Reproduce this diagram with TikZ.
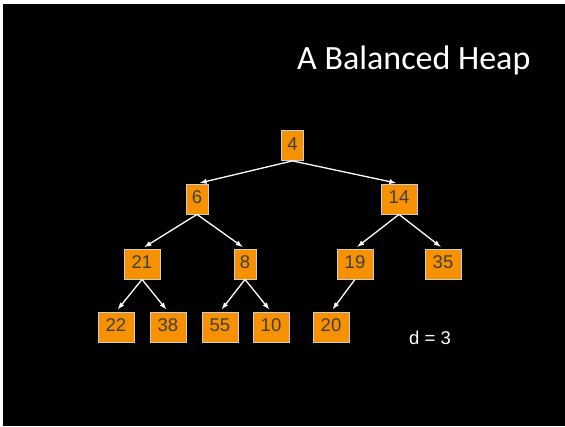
\documentclass[tikz,border=0pt]{standalone}
\usepackage{fontspec}
\setmainfont{Liberation Sans}
\newfontfamily\titlefont{Carlito}
\definecolor{heaporange}{RGB}{247,145,0}
\definecolor{keygrey}{RGB}{64,64,64}
\begin{document}
\begin{tikzpicture}[x=1pt,y=-1pt,
		key/.style={rectangle,draw=white!80!black,line width=0.8pt,fill=heaporange,text=keygrey,
			font=\fontsize{18.5}{20}\selectfont,minimum width=36,minimum height=30,
			inner sep=0pt,text height=13,text depth=4},
		narrow/.style={minimum width=22},
		edge/.style={-latex,draw=white,line width=1.3pt,shorten >=3pt}]
	\useasboundingbox (0,0) rectangle (565,426);
	\fill[white] (0,0) rectangle (565,426);
	\fill[black] (3,4) rectangle (565,426);
	\node[anchor=base west,text=white,font=\titlefont\fontsize{34}{38}\selectfont,inner sep=0pt] (title) at (297,69) {A Balanced Heap};
	\node[key,narrow] (root) at (292.5,145.5) {4};
	\node[key,narrow] (six) at (197,199) {6};
	\node[key] (fourteen) at (399,199) {14};
	\node[key] (twentyone) at (142,264) {21};
	\node[key,narrow] (eight) at (245,264) {8};
	\node[key] (nineteen) at (355,264) {19};
	\node[key] (thirtyfive) at (443,264) {35};
	\node[key] (twentytwo) at (116,327) {22};
	\node[key] (thirtyeight) at (168,327) {38};
	\node[key] (fiftyfive) at (220,327) {55};
	\node[key] (ten) at (271,327) {10};
	\node[key] (twenty) at (331,327) {20};
	\node[anchor=base west,text=white,font=\fontsize{18.5}{20}\selectfont,inner sep=0pt] (depth) at (409,344) {d = 3};
	\path[edge] (root.south) to (six.north);
	\path[edge] (root.south) to (fourteen.north);
	\path[edge] (six.south) to (twentyone.north);
	\path[edge] (six.south) to (eight.north);
	\path[edge] (fourteen.south) to (nineteen.north);
	\path[edge] (fourteen.south) to (thirtyfive.north);
	\path[edge] (twentyone.south) to (twentytwo.north);
	\path[edge] (twentyone.south) to (thirtyeight.north);
	\path[edge] (eight.south) to (fiftyfive.north);
	\path[edge] (eight.south) to (ten.north);
	\path[edge] (nineteen.south) to (twenty.north);
\end{tikzpicture}
\end{document}
